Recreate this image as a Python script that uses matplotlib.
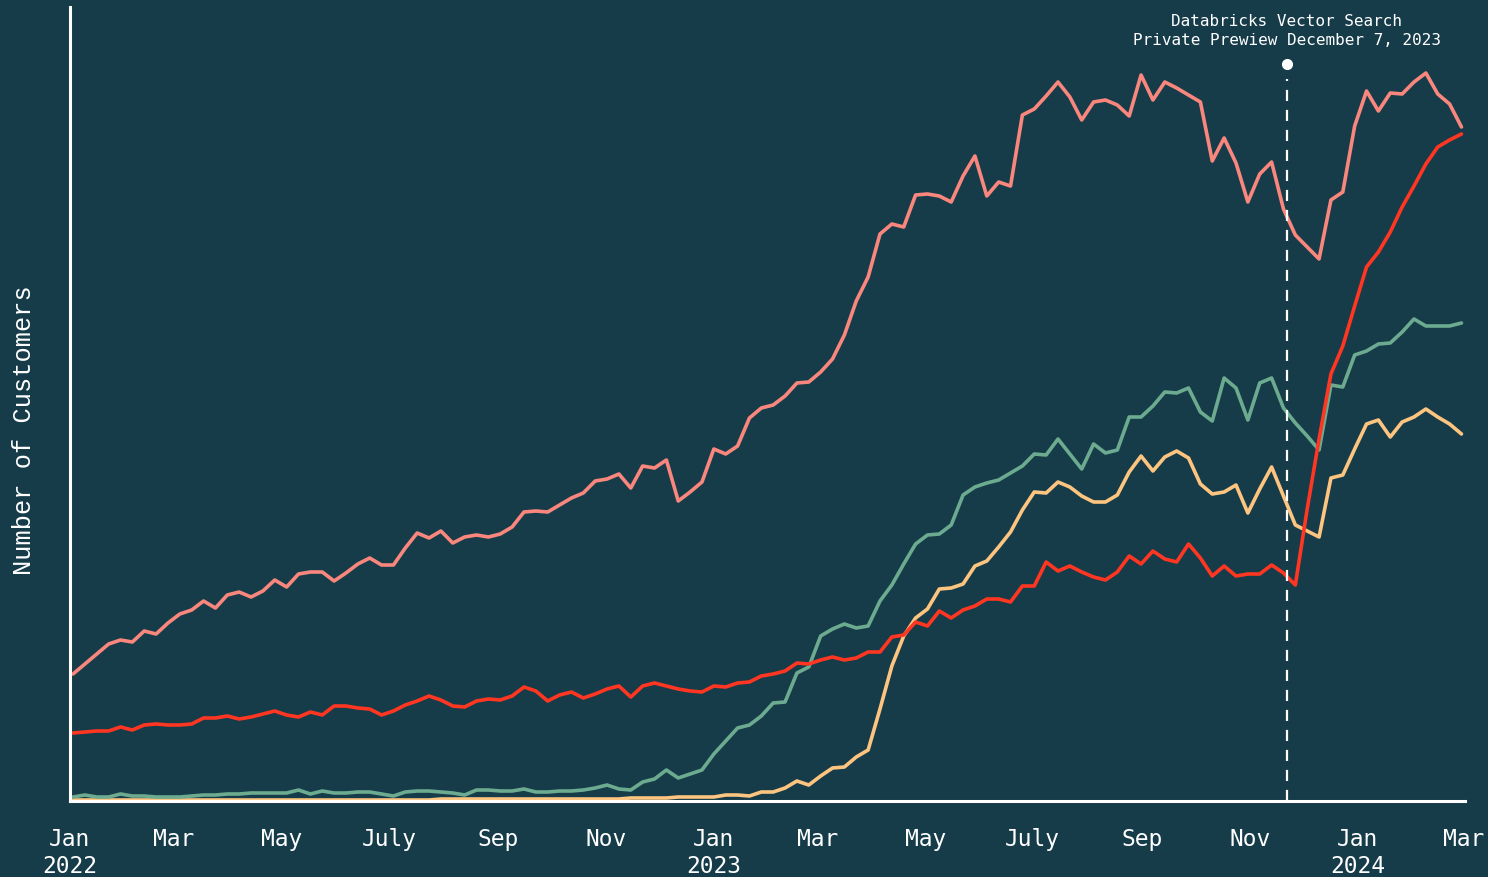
import matplotlib.pyplot as plt
import pandas as pd

# Customers over time (unitless)
fechas = pd.date_range("2022-01-03", "2024-02-29", periods=118)

salmon = [127, 137, 147, 157, 161, 159, 170, 167, 178, 187, 191, 200, 193, 206, 209, 204, 210, 221, 214, 227,
          229, 229, 220, 228, 237, 243, 236, 236, 253, 268, 263, 270, 258, 264, 266, 264, 267, 274, 289, 290,
          289, 296, 303, 308, 320, 322, 327, 313, 335, 333, 341, 300, 309, 319, 352, 347, 355, 383, 393, 396,
          405, 418, 419, 429, 442, 466, 500, 524, 567, 577, 574, 606, 607, 605, 599, 625, 645, 605, 619, 615,
          686, 692, 705, 719, 704, 681, 699, 701, 696, 685, 726, 701, 719, 713, 706, 699, 640, 663, 638, 599,
          627, 639, 592, 566, 554, 542, 601, 609, 675, 710, 690, 708, 707, 719, 728, 707, 697, 674]

rojo = [68, 69, 70, 70, 74, 71, 76, 77, 76, 76, 77, 83, 83, 85, 82, 84, 87, 90, 86, 84,
        89, 86, 95, 95, 93, 92, 86, 90, 96, 100, 105, 101, 95, 94, 100, 102, 101, 105, 114, 110,
        100, 106, 109, 103, 107, 112, 115, 104, 115, 118, 115, 112, 110, 109, 115, 114, 118, 119, 125, 127,
        130, 138, 137, 141, 144, 141, 143, 149, 149, 164, 166, 179, 175, 190, 183, 191, 195, 202, 202, 199,
        215, 215, 239, 230, 235, 229, 224, 221, 229, 245, 237, 250, 242, 239, 257, 243, 225, 235, 225, 227,
        227, 236, 228, 216, 292, 362, 427, 455, 495, 534, 549, 569, 594, 615, 637, 654, 661, 667]

verde = [4, 6, 4, 4, 7, 5, 5, 4, 4, 4, 5, 6, 6, 7, 7, 8, 8, 8, 8, 11,
         7, 10, 8, 8, 9, 9, 7, 5, 9, 10, 10, 9, 8, 6, 11, 11, 10, 10, 12, 9,
         9, 10, 10, 11, 13, 16, 12, 11, 19, 22, 31, 23, 27, 31, 47, 60, 73, 76, 85, 98,
         99, 128, 134, 165, 172, 177, 173, 175, 200, 216, 237, 257, 266, 267, 276, 306, 314, 318, 321, 328,
         335, 347, 346, 362, 347, 332, 357, 348, 351, 384, 384, 395, 409, 408, 413, 389, 380, 423, 413, 381,
         418, 423, 393, 378, 365, 351, 416, 414, 446, 450, 457, 458, 469, 482, 475, 475, 475, 478]

amarillo = [1, 1, 1, 1, 1, 1, 1, 1, 1, 1, 1, 1, 1, 1, 1, 1, 1, 1, 1, 1,
            1, 1, 1, 1, 1, 1, 1, 1, 1, 1, 1, 2, 2, 2, 2, 2, 2, 2, 2, 2,
            2, 2, 2, 2, 2, 2, 2, 3, 3, 3, 3, 4, 4, 4, 4, 6, 6, 5, 9, 9,
            13, 20, 16, 25, 33, 34, 44, 51, 92, 135, 165, 183, 192, 212, 213, 217, 235, 240, 254, 269,
            291, 309, 308, 319, 314, 305, 299, 299, 306, 329, 345, 330, 344, 350, 343, 317, 307, 309, 316, 288,
            312, 334, 305, 276, 270, 264, 323, 326, 352, 377, 381, 364, 379, 384, 392, 384, 377, 367]

tick_fechas = pd.to_datetime(["2022-01-01", "2022-03-01", "2022-05-01", "2022-07-01", "2022-09-01",
                              "2022-11-01", "2023-01-01", "2023-03-01", "2023-05-01", "2023-07-01",
                              "2023-09-01", "2023-11-01", "2024-01-01", "2024-03-01"])
tick_labels = ["Jan\n2022", "Mar", "May", "July", "Sep", "Nov", "Jan\n2023", "Mar", "May", "July",
               "Sep", "Nov", "Jan\n2024", "Mar"]

fecha_evento = pd.Timestamp("2023-11-22")
texto_evento = "Databricks Vector Search\nPrivate Prewiew December 7, 2023"

fondo = "#163c49"
mono = "DejaVu Sans Mono"

fig = plt.figure(figsize=(14.88, 8.78), dpi=100)
fig.patch.set_facecolor(fondo)
ax = fig.add_axes([69.5 / 1488, 1 - 802 / 878, (1465 - 69.5) / 1488, (802 - 8) / 878])
ax.set_facecolor(fondo)

lw = 2.6
ax.plot(fechas, amarillo, color="#fdc57f", lw=lw, solid_capstyle="round", zorder=2)
ax.plot(fechas, verde, color="#6cab90", lw=lw, solid_capstyle="round", zorder=2.1)
ax.plot(fechas, salmon, color="#fa877d", lw=lw, solid_capstyle="round", zorder=2.2)
ax.plot(fechas, rojo, color="#ff3621", lw=lw, solid_capstyle="round", zorder=2.3)

# evento
ax.plot([fecha_evento, fecha_evento], [0, 722], color="white", lw=1.6, ls=(0, (5, 4)), zorder=3)
ax.plot([fecha_evento], [737], "o", color="white", ms=7, zorder=3, clip_on=False)
ax.text(fecha_evento, 754, texto_evento, ha="center", va="bottom", color="white",
        fontsize=11.5, family=mono, linespacing=1.3)

ax.set_xlim(pd.Timestamp("2022-01-01"), pd.Timestamp("2024-03-02"))
ax.set_ylim(0, 794)
ax.set_xticks(tick_fechas)
ax.set_xticklabels(tick_labels, family=mono, fontsize=16.5, color="white", linespacing=1.22)
ax.tick_params(axis="x", length=0, pad=18.5)
ax.set_yticks([])

for s in ["top", "right"]:
    ax.spines[s].set_visible(False)
for s in ["left", "bottom"]:
    ax.spines[s].set_color("white")
    ax.spines[s].set_linewidth(2.2)

fig.text(24 / 1488, 1 - 430 / 878, "Number of Customers", rotation=90, ha="center", va="center",
         color="white", fontsize=18.3, family="Liberation Mono")

plt.savefig("out.png", facecolor=fondo)
